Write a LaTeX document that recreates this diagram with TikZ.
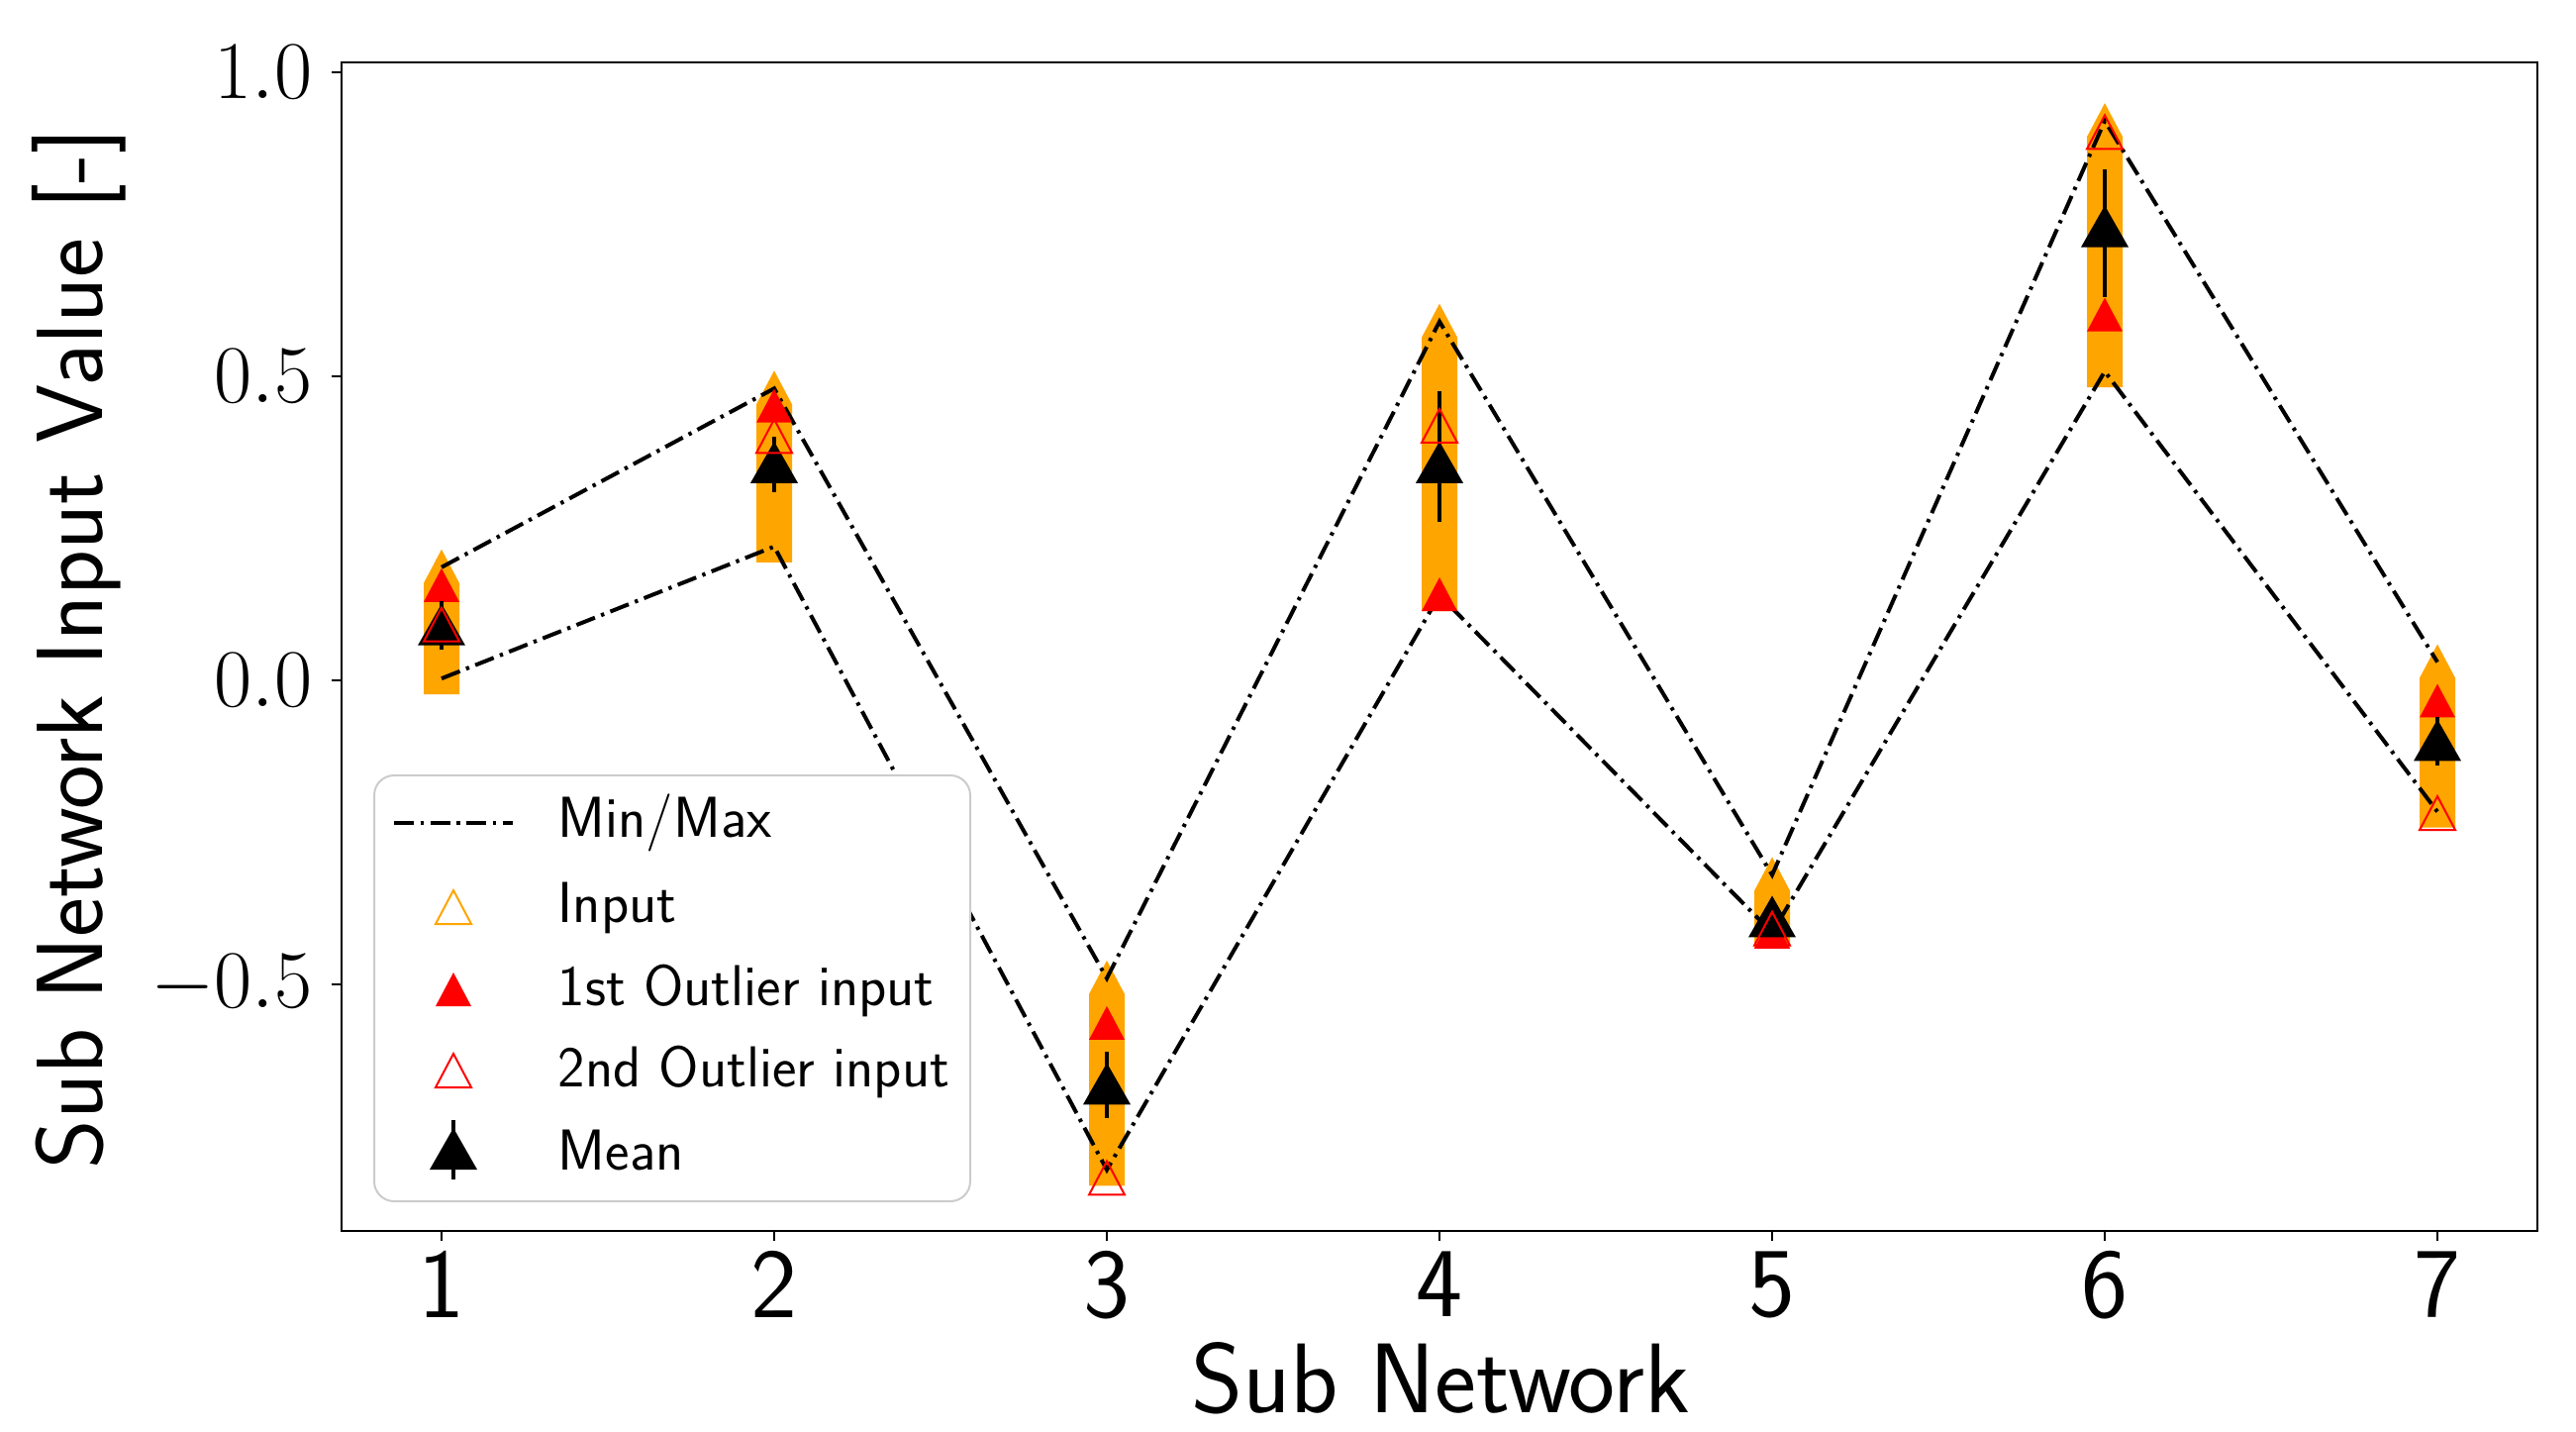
\documentclass[tikz,border=0pt]{standalone}
\usepackage{fontspec}
\begin{document}
\begin{tikzpicture}[x={(0.3pt,0)},y={(0,-0.3pt)},
  mm/.style={line width=1.2pt,dash pattern=on 6pt off 2pt on 1pt off 2pt},
  tick/.style={line width=0.6pt},
  ticklab/.style={font=\fontsize{30}{36}\selectfont},
  leg/.style={font=\sffamily\fontsize{17.5}{21}\selectfont,anchor=west}]
\useasboundingbox (0,0) rectangle (2602,1446);
\definecolor{orng}{RGB}{255,165,0}
% y ticks
\foreach \v/\l in {1/1.0,0.5/0.5,0/0.0,-0.5/-0.5}{
  \pgfmathsetmacro\yy{687-614*\v}
  \draw[tick] (345,\yy) -- (335,\yy);
  \node[ticklab,anchor=east] (yl\l) at (327,\yy) {$\l$};
}
\foreach \i in {1,...,7}{
  \pgfmathsetmacro\xx{446+336*(\i-1)}
  \draw[tick] (\xx,1243) -- (\xx,1253);
  \node[ticklab,anchor=north] (xl\i) at (\xx,1252) {\sffamily \i};
}
% data
\foreach \i/\mx/\mn/\rf/\ro/\mu/\el/\eh in {
 1/.186/.003/.155/.09/.09/.05/.13,
 2/.48/.22/.45/.40/.357/.31/.40,
 3/-.49/-.805/-.565/-.82/-.665/-.72/-.61,
 4/.59/.14/.14/.417/.357/.26/.475,
 5/-.32/-.415/-.415/-.41/-.39/-.42/-.36,
 6/.92/.508/.60/.90/.745/.63/.84,
 7/.03/-.216/-.035/-.22/-.10/-.14/-.06}{
  \pgfmathsetmacro\xx{446+336*(\i-1)}
  \pgfmathsetmacro\ya{687-614*\mx}
  \pgfmathsetmacro\yb{687-614*\mn}
  \coordinate (u\i) at (\xx,\ya);
  \coordinate (d\i) at (\xx,\yb);
  \fill[orng] (\xx-18,\yb+16) -- (\xx+18,\yb+16) -- (\xx+18,\ya+16) -- (\xx,\ya-18) -- (\xx-18,\ya+16) -- cycle;
}
\draw[mm] (u1)--(u2)--(u3)--(u4)--(u5)--(u6)--(u7);
\draw[mm] (d1)--(d2)--(d3)--(d4)--(d5)--(d6)--(d7);
\foreach \i/\mx/\mn/\rf/\ro/\mu/\el/\eh in {
 1/.186/.003/.155/.09/.09/.05/.13,
 2/.48/.22/.45/.40/.357/.31/.40,
 3/-.49/-.805/-.565/-.82/-.665/-.72/-.61,
 4/.59/.14/.14/.417/.357/.26/.475,
 5/-.32/-.415/-.415/-.41/-.39/-.42/-.36,
 6/.92/.508/.60/.90/.745/.63/.84,
 7/.03/-.216/-.035/-.22/-.10/-.14/-.06}{
  \pgfmathsetmacro\xx{446+336*(\i-1)}
  \pgfmathsetmacro\yr{687-614*\rf}
  \pgfmathsetmacro\yo{687-614*\ro}
  \pgfmathsetmacro\ym{687-614*\mu}
  \pgfmathsetmacro\ylo{687-614*\el}
  \pgfmathsetmacro\yhi{687-614*\eh}
  \fill[red] (\xx,\yr-18) -- (\xx+18,\yr+16) -- (\xx-18,\yr+16) -- cycle;
  \draw[line width=1.1pt] (\xx,\ylo) -- (\xx,\yhi);
  \fill[black] (\xx,\ym-22) -- (\xx+24,\ym+20) -- (\xx-24,\ym+20) -- cycle;
  \draw[red,line width=0.6pt] (\xx,\yo-18) -- (\xx+18,\yo+16) -- (\xx-18,\yo+16) -- cycle;
}
% axes frame
\draw[line width=0.6pt] (345,63) rectangle (2563,1243);
% legend
\draw[rounded corners=6pt,draw=black!20,fill=white,line width=0.6pt] (378,783) rectangle (980,1213);
\coordinate (la) at (398,831); \coordinate (lb) at (518,831);
\draw[mm] (la) -- (lb);
\node[leg] (t1) at (552,831) {Min/Max};
\draw[orng,line width=0.6pt] (458,899) -- (476,933) -- (440,933) -- cycle;
\node[leg] (t2) at (552,917) {Input};
\fill[red] (458,982) -- (476,1016) -- (440,1016) -- cycle;
\node[leg] (t3) at (552,1000) {1st Outlier input};
\draw[red,line width=0.6pt] (458,1064) -- (476,1098) -- (440,1098) -- cycle;
\node[leg] (t4) at (552,1082) {2nd Outlier input};
\draw[line width=1.1pt] (458,1131) -- (458,1191);
\fill (458,1139) -- (482,1181) -- (434,1181) -- cycle;
\node[leg] (t5) at (552,1161) {Mean};
% axis labels
\node[font=\sffamily\fontsize{30}{36}\selectfont] (xlab) at (1455,1392) {Sub Network};
\node[font=\sffamily\fontsize{28.5}{34}\selectfont,rotate=90] (ylab) at (80,655) {Sub Network Input Value [-]};
\end{tikzpicture}
\end{document}
